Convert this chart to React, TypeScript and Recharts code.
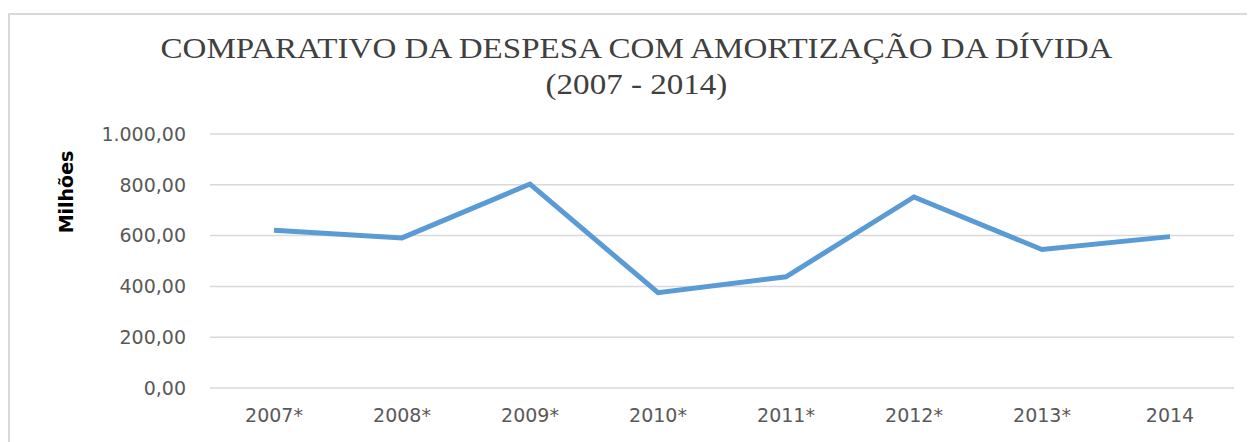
import React from "react";
import { CartesianGrid, Line, LineChart, XAxis, YAxis } from "recharts";

const years = ["2007*", "2008*", "2009*", "2010*", "2011*", "2012*", "2013*", "2014"];
const amortizacao = [621, 591, 803, 375, 438, 752, 545, 596];
const yTicks = [0, 200, 400, 600, 800, 1000];

const data = years.map((year, i) => ({ year, value: amortizacao[i] }));

// pt-BR style: thousands with ".", decimals with ","
function fmt(v: number) {
  const int = Math.floor(v).toString().replace(/\B(?=(\d{3})+(?!\d))/g, ".");
  return `${int},00`;
}

const tickFont = { fill: "#595959", fontSize: 19, fontFamily: "'DejaVu Sans', sans-serif" };

export default function App() {
  return (
    <div style={{ position: "relative", width: 1247, height: 434 }}>
      <div
        style={{
          position: "absolute",
          left: 0,
          top: 5,
          width: 1260,
          height: 440,
          borderTop: "2px solid #d9d9d9",
          borderLeft: "2px solid #d9d9d9",
          boxSizing: "border-box",
        }}
      />
      <div
        style={{
          position: "absolute",
          left: 10,
          top: 23,
          width: 1237,
          textAlign: "center",
          fontFamily: "'Liberation Serif', 'Times New Roman', serif",
          fontSize: 28.5,
          lineHeight: "36px",
          color: "#404040",
          transform: "scaleX(1.16)",
          transformOrigin: "center",
        }}
      >
        COMPARATIVO DA DESPESA COM AMORTIZAÇÃO DA DÍVIDA
        <br />
        (2007 - 2014)
      </div>
      <div
        style={{
          position: "absolute",
          left: 58,
          top: 184,
          transform: "translate(-50%, -50%) rotate(-90deg)",
          fontFamily: "'DejaVu Sans', sans-serif",
          fontWeight: "bold",
          fontSize: 19,
          color: "#000",
          whiteSpace: "nowrap",
        }}
      >
        Milhões
      </div>
      <div style={{ position: "absolute", left: 0, top: 0 }}>
        <LineChart
          width={1247}
          height={434}
          data={data}
          margin={{ top: 126, right: 21, bottom: 10, left: 0 }}
        >
          <CartesianGrid vertical={false} stroke="#d9d9d9" strokeWidth={1.5} />
          <XAxis
            dataKey="year"
            axisLine={false}
            tickLine={false}
            tickSize={0}
            tickMargin={21}
            height={44}
            padding={{ left: 64, right: 64 }}
            tick={tickFont}
            interval={0}
          />
          <YAxis
            domain={[0, 1000]}
            ticks={yTicks}
            width={202}
            axisLine={false}
            tickLine={false}
            tickSize={0}
            tickMargin={24}
            tickFormatter={fmt}
            tick={tickFont}
          />
          <Line
            type="linear"
            dataKey="value"
            stroke="#5b9bd5"
            strokeWidth={5}
            dot={false}
            isAnimationActive={false}
          />
        </LineChart>
      </div>
    </div>
  );
}
